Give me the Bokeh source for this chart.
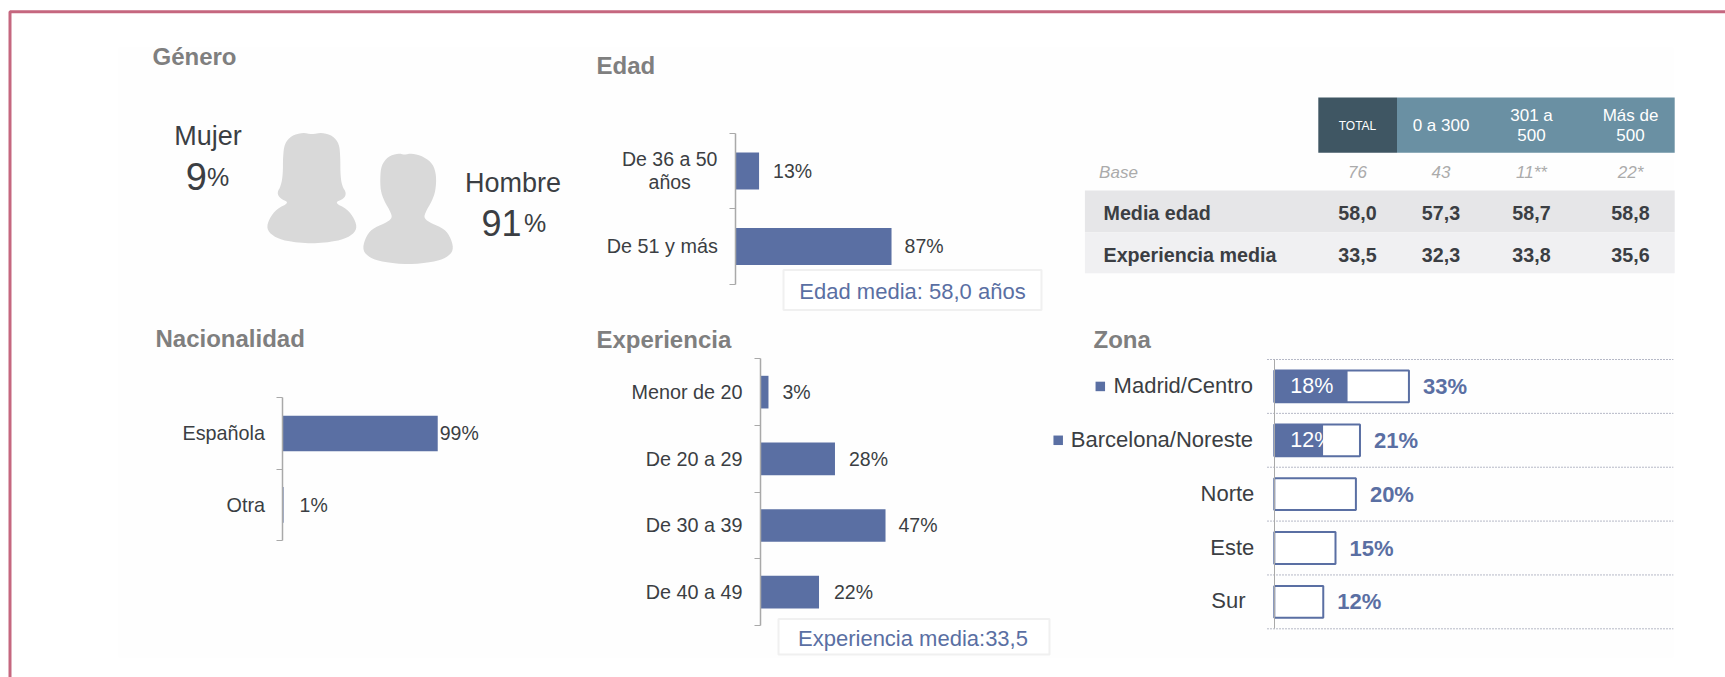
from bokeh.plotting import figure
from bokeh.embed import file_html
from bokeh.resources import INLINE
from bokeh.core.properties import value
from bokeh.models import Range1d, LinearAxis, FixedTicker, ColumnDataSource

# ---------- data ----------
edad_cats = ["De 36 a 50\naños", "De 51 y más"]
edad_vals = [13, 87]
exp_cats = ["Menor de 20", "De 20 a 29", "De 30 a 39", "De 40 a 49"]
exp_vals = [3, 28, 47, 22]
nac_cats = ["Española", "Otra"]
nac_vals = [99, 1]
zona_cats = ["Madrid/Centro", "Barcelona/Noreste", "Norte", "Este", "Sur"]
zona_vals = [33, 21, 20, 15, 12]
zona_inner = [18, 12, 0, 0, 0]
genero_labels = ["Mujer", "Hombre"]
genero_vals = [9, 91]
table_head = ["TOTAL", "0 a 300", "301 a\n500", "Más de\n500"]
table_base = ["76", "43", "11**", "22*"]
table_rows = ["Media edad", "Experiencia media"]
table_edad = ["58,0", "57,3", "58,7", "58,8"]
table_exp = ["33,5", "32,3", "33,8", "35,6"]

# ---------- style ----------
FONT = value("Liberation Sans")
BLUE = "#5a6fa3"
DARK = "#3b3e43"
GREY = "#7f7f7f"
AXIS = "#a9a9a9"
X0, X1, Y0, Y1 = 0, 1725, 0, 677

p = figure(width=X1 - X0, height=Y1 - Y0, output_backend="svg", toolbar_location=None,
           x_range=Range1d(X0, X1), y_range=Range1d(Y1, Y0),
           x_axis_type=None, y_axis_type=None, min_border=0)
p.outline_line_color = None
p.grid.visible = False


def text(x, y, s, size, color=DARK, align="left", style="normal", baseline="middle", **kw):
    p.text(x=[x], y=[y], text=[s], text_font=FONT, text_font_size=size, text_color=color,
           text_align=align, text_font_style=style, text_baseline=baseline,
           text_line_height=1.05, **kw)


def box(l, r, t, b, fill, line=None, lw=1, **kw):
    p.quad(left=[l], right=[r], top=[t], bottom=[b], fill_color=fill, line_color=line, line_width=lw, **kw)


def add_ranges(name, ax, k, top, bottom, n):
    band = (bottom - top) / n
    p.extra_x_ranges[name + "_x"] = Range1d((X0 - ax) / k, (X1 - ax) / k)
    p.extra_y_ranges[name + "_y"] = Range1d((Y1 - top) / band, (Y0 - top) / band)
    return dict(x_range_name=name + "_x", y_range_name=name + "_y")


def bar_chart(name, cats, vals, ax, k, top, bottom, cat_right, bar_h, val_off, val_dy=0, skip_label=()):
    n = len(cats)
    rn = add_ranges(name, ax, k, top, bottom, n)
    ys = [i + 0.5 for i in range(n)]
    src = ColumnDataSource(dict(y=ys, v=vals, t=[f"{v}%" for v in vals], off=val_off))
    p.hbar(y="y", left=0, right="v", height=bar_h, source=src, fill_color=BLUE, line_color=None, **rn)
    p.text(x="v", y="y", text="t", source=src, x_offset="off", y_offset=val_dy, text_font=FONT,
           text_font_size="19.5px", text_color=DARK, text_baseline="middle", **rn)
    keep = [i for i in range(n) if i not in skip_label]
    a = LinearAxis(fixed_location=0, bounds=(0, n),
                   ticker=FixedTicker(ticks=[ys[i] for i in keep], minor_ticks=list(range(n + 1))),
                   major_label_overrides={ys[i]: cats[i] for i in keep},
                   axis_line_color=AXIS, axis_line_width=1.5,
                   major_tick_line_color=None, major_tick_in=0, major_tick_out=0,
                   minor_tick_line_color=AXIS, minor_tick_line_width=1, minor_tick_in=0, minor_tick_out=6,
                   major_label_standoff=int(round(ax - cat_right - 6)),
                   major_label_text_font="Liberation Sans", major_label_text_font_size="19.8px",
                   major_label_text_color=DARK, **rn)
    p.add_layout(a, "left")


def smooth(pts, it=2):
    for _ in range(it):
        out = []
        for i in range(len(pts)):
            a, c = pts[i], pts[(i + 1) % len(pts)]
            out.append((0.75 * a[0] + 0.25 * c[0], 0.75 * a[1] + 0.25 * c[1]))
            out.append((0.25 * a[0] + 0.75 * c[0], 0.25 * a[1] + 0.75 * c[1]))
        pts = out
    return pts


# ---------- frame and faint panel ----------
box(118, 1673, 47, 657, "#fefefe")
p.line(x=[9.5, 9.5, X1], y=[Y1, 11.3, 11.3], line_color="#c5677f", line_width=3)

# ---------- titles ----------
for x, y, s in [(152, 56, "Género"), (596, 65, "Edad"), (155, 338, "Nacionalidad"),
                (596, 339, "Experiencia"), (1093, 339, "Zona")]:
    text(x, y, s, "24px", GREY, style="bold")

# ---------- género ----------
woman = [(738, 470), (742, 430), (760, 405), (790, 396), (813, 402), (840, 396), (868, 405), (885, 430), (888, 470),
         (888, 520), (892, 555), (904, 578), (897, 595), (872, 606), (905, 625), (925, 655), (932, 685), (915, 707),
         (880, 722), (813, 730), (745, 722), (712, 707), (695, 685), (702, 655), (722, 625), (755, 606), (732, 595),
         (722, 578), (733, 555), (738, 520)]
man = [(992, 530), (995, 495), (1012, 468), (1040, 458), (1055, 463), (1075, 458), (1105, 468), (1130, 490), (1139, 525),
       (1137, 570), (1128, 600), (1108, 640), (1108, 655), (1125, 668), (1160, 685), (1178, 715), (1184, 750), (1165, 772),
       (1130, 785), (1065, 792), (1000, 785), (965, 772), (946, 750), (952, 715), (970, 685), (1005, 668), (1022, 655),
       (1022, 640), (1002, 600), (993, 570)]
for shape in (woman, man):
    s = smooth(shape)
    p.patch(x=[a / 2.613 for a, _ in s], y=[b / 3 for _, b in s], fill_color="#d9d9d9", line_color=None)
text(207.5, 135, genero_labels[0], "27px", align="center")
text(206.5, 176, str(genero_vals[0]), "38px", align="right", baseline="alphabetic")
text(206.5, 176, "%", "25px", baseline="alphabetic")
text(512.5, 182.5, genero_labels[1], "27px", align="center")
text(521, 222.5, str(genero_vals[1]), "36px", align="right", baseline="alphabetic")
text(523.5, 222.5, "%", "25px", baseline="alphabetic")

# ---------- bar charts ----------
bar_chart("edad", edad_cats, edad_vals, 735.3, 1.79, 132.7, 283.7, 717.3, 0.49, [14, 13], skip_label=(0,))
text(669.2, 170, edad_cats[0], "19.5px", align="center")
bar_chart("exp", exp_cats, exp_vals, 760, 2.66, 358.3, 625, 742.3, 0.49, [14, 14, 13, 15])
bar_chart("nac", nac_cats, nac_vals, 281.5, 1.573, 397.3, 540, 264.3, 0.5, [2, 16])

box(783, 1041, 269.5, 309.5, "white", "#f0f0f0", 2)
text(912, 291, "Edad media: 58,0 años", "22px", BLUE, align="center")
box(778, 1049, 618.5, 654, "white", "#f0f0f0", 2)
text(912.5, 638, "Experiencia media:33,5", "22px", BLUE, align="center")

# ---------- zona ----------
rn = add_ranges("zona", 1273.8, 4.08, 359, 628.3, 5)
ys = [i + 0.5 for i in range(5)]
p.segment(x0=1267, x1=1672.7, y0=list(range(6)), y1=list(range(6)), line_color="#6f7590", line_width=1,
          line_dash="1 2", y_range_name="zona_y")
z = LinearAxis(fixed_location=0, bounds=(0, 5), ticker=FixedTicker(ticks=[]), axis_line_color=AXIS, axis_line_width=1,
               **rn)
p.add_layout(z, "left")
p.hbar(y=ys, left=0, right=zona_inner, height=0.59, fill_color=BLUE, line_color=None, **rn)
for i, v in enumerate(zona_inner):
    if v:
        p.text(x=[0], y=[ys[i]], text=[f"{v}%"], x_offset=[16], text_font=FONT, text_font_size="21.5px",
               text_color="white", text_baseline="middle", **rn)
p.hbar(y=ys, left=zona_inner, right=zona_vals, height=0.59, fill_color="white", line_color=None, **rn)
p.hbar(y=ys, left=0, right=zona_vals, height=0.59, fill_color=None, line_color=BLUE, line_width=2, **rn)
p.text(x=zona_vals, y=ys, text=[f"{v}%" for v in zona_vals], x_offset=[14] * 5, text_font=FONT, text_font_size="22px",
       text_font_style="bold", text_color=BLUE, text_baseline="middle", **rn)
zona_right = [1252.5, 1252.5, 1253.8, 1253.8, 1245]
for r, s, i in zip(zona_right, zona_cats, ys):
    p.text(x=[r], y=[i], text=[s], text_font=FONT, text_font_size="22px", text_color=DARK, text_align="right",
           text_baseline="middle", y_offset=-1, y_range_name="zona_y")
p.scatter(x=[1099.8, 1057.7], y=ys[:2], marker="square", size=9.5, fill_color=BLUE, line_color=None,
          y_range_name="zona_y")

# ---------- table ----------
cols = [1357, 1440.5, 1531, 1630]
box(1317.8, 1396.5, 97, 152.3, "#3f5663")
box(1396.5, 1674.2, 97, 152.3, "#6a90a3")
box(1084.4, 1674.2, 190, 231.7, "#e6e6e8")
box(1084.4, 1674.2, 231.7, 272.7, "#f0f0f2")
for c, h, f in zip(cols, table_head, ["12px", "17px", "17px", "17px"]):
    text(c, 125, h, f, "white", align="center")
text(1098.6, 171.7, "Base", "17px", "#ababab", style="italic")
for c, b in zip(cols, table_base):
    text(c, 171.7, b, "17px", "#ababab", align="center", style="italic")
for y, label, row in zip([212.7, 254], table_rows, [table_edad, table_exp]):
    text(1103, y, label, "19.7px", style="bold")
    for c, v in zip(cols, row):
        text(c, y, v, "19.7px", align="center", style="bold")

open("out.html", "w").write(file_html(p, INLINE))
